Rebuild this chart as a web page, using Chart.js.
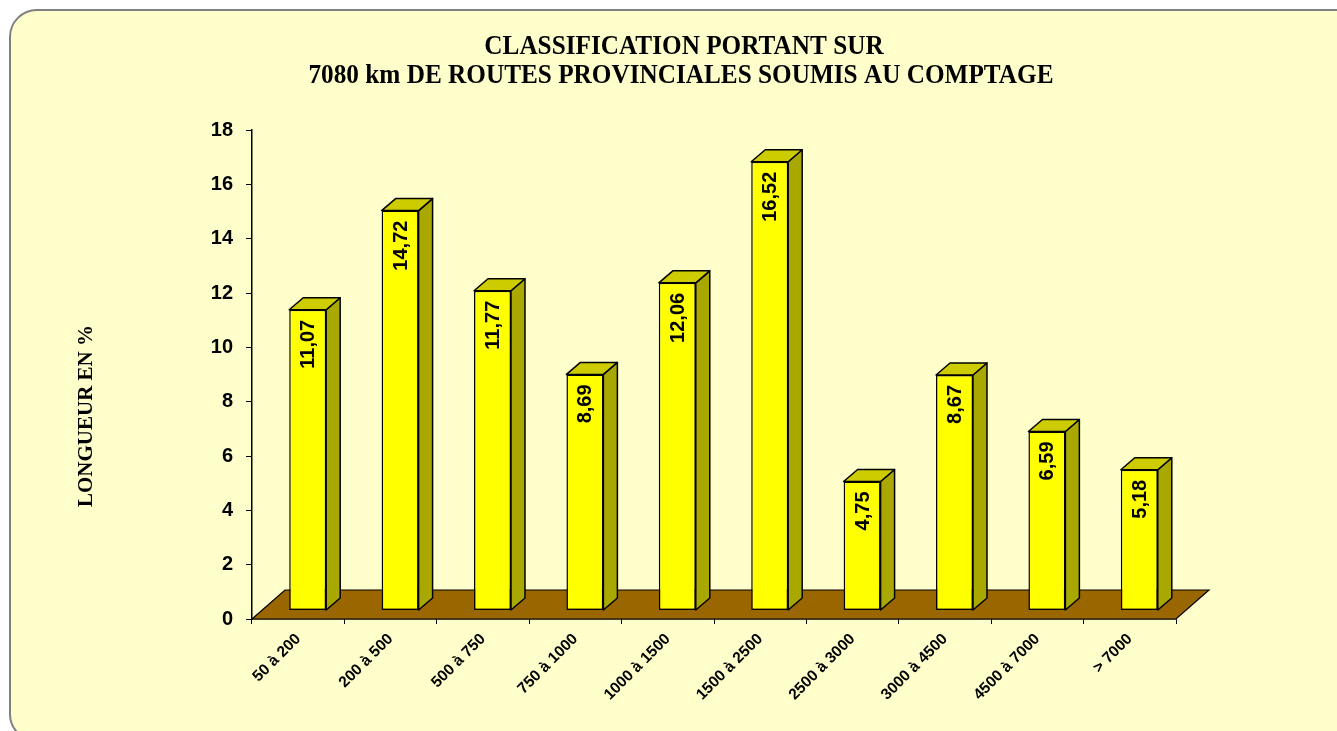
<!DOCTYPE html>
<html><head><meta charset="utf-8">
<script src="https://cdn.jsdelivr.net/npm/chart.js@4.4.0/dist/chart.umd.min.js"></script>
<style>html,body{margin:0;padding:0;background:#fff;}canvas{display:block;}</style>
</head><body>
<canvas id="c" width="1337" height="731"></canvas>
<script>
const categories = ['50 à 200','200 à 500','500 à 750','750 à 1000','1000 à 1500','1500 à 2500','2500 à 3000','3000 à 4500','4500 à 7000','> 7000'];
const values = [11.07,14.72,11.77,8.69,12.06,16.52,4.75,8.67,6.59,5.18];
const yTicks = [0,2,4,6,8,10,12,14,16,18];
const titleLines = ['CLASSIFICATION PORTANT SUR','7080 km DE ROUTES PROVINCIALES SOUMIS AU COMPTAGE'];
const yTitle = 'LONGUEUR EN %';

const SANS = "'Liberation Sans', Arial, sans-serif";
const SERIF = "'Liberation Serif', 'Times New Roman', serif";
const D = {fx: 9.5, fy: -8.5, sx: 14, sy: -12, floorDx: 33, floorDy: -29};
const COL = {bg:'#FFFFCC', front:'#FFFF00', top:'#CCCC00', side:'#A8A800', floor:'#996600', line:'#000000'};

function roundRect(ctx,x,y,w,h,r){
  ctx.beginPath();
  ctx.moveTo(x+r,y);ctx.lineTo(x+w-r,y);ctx.arcTo(x+w,y,x+w,y+r,r);
  ctx.lineTo(x+w,y+h-r);ctx.arcTo(x+w,y+h,x+w-r,y+h,r);
  ctx.lineTo(x+r,y+h);ctx.arcTo(x,y+h,x,y+h-r,r);
  ctx.lineTo(x,y+r);ctx.arcTo(x,y,x+r,y,r);ctx.closePath();
}

function condensedText(ctx, text, cx, cy, sx){
  ctx.save();
  ctx.translate(cx, cy);
  ctx.scale(sx, 1);
  ctx.fillText(text, 0, 0);
  ctx.restore();
}

const plugin3d = {
  id:'bars3d',
  beforeDraw(chart){
    const ctx = chart.ctx;
    ctx.save();
    ctx.fillStyle = '#FFFFFF';
    ctx.fillRect(0,0,chart.width,chart.height);
    roundRect(ctx,10,10,1352,731,27);
    ctx.fillStyle = COL.bg; ctx.fill();
    ctx.lineWidth = 2; ctx.strokeStyle = '#808080'; ctx.stroke();
    ctx.restore();
  },
  beforeDatasetsDraw(chart){
    const ctx = chart.ctx, xs = chart.scales.x, ys = chart.scales.y;
    const y0 = ys.getPixelForValue(0);
    ctx.save();
    ctx.beginPath();
    ctx.moveTo(xs.left, y0);
    ctx.lineTo(xs.left + D.floorDx, y0 + D.floorDy);
    ctx.lineTo(xs.right + D.floorDx, y0 + D.floorDy);
    ctx.lineTo(xs.right, y0);
    ctx.closePath();
    ctx.fillStyle = COL.floor; ctx.fill();
    ctx.lineWidth = 1.2; ctx.strokeStyle = COL.line; ctx.stroke();
    ctx.restore();
    ctx.save();
    ctx.translate(D.fx, D.fy);
  },
  afterDatasetsDraw(chart){
    const ctx = chart.ctx;
    const meta = chart.getDatasetMeta(0);
    ctx.lineWidth = 1.5; ctx.strokeStyle = COL.line; ctx.lineJoin = 'round';
    meta.data.forEach(bar => {
      const p = bar.getProps(['x','y','base','width'], true);
      const l = p.x - p.width/2, r = p.x + p.width/2;
      ctx.beginPath();
      ctx.moveTo(r, p.y); ctx.lineTo(r + D.sx, p.y + D.sy);
      ctx.lineTo(r + D.sx, p.base + D.sy); ctx.lineTo(r, p.base); ctx.closePath();
      ctx.fillStyle = COL.side; ctx.fill(); ctx.stroke();
      ctx.beginPath();
      ctx.moveTo(l, p.y); ctx.lineTo(l + D.sx, p.y + D.sy);
      ctx.lineTo(r + D.sx, p.y + D.sy); ctx.lineTo(r, p.y); ctx.closePath();
      ctx.fillStyle = COL.top; ctx.fill(); ctx.stroke();
    });
    ctx.fillStyle = '#000';
    ctx.font = 'bold 20px ' + SANS;
    ctx.textAlign = 'right'; ctx.textBaseline = 'middle';
    meta.data.forEach((bar, i) => {
      const p = bar.getProps(['x','y'], true);
      ctx.save();
      ctx.translate(p.x, p.y + 10);
      ctx.rotate(-Math.PI/2);
      ctx.fillText(values[i].toFixed(2).replace('.', ','), 0, 1);
      ctx.restore();
    });
    ctx.restore();
  },
  afterDraw(chart){
    const ctx = chart.ctx;
    ctx.save();
    ctx.fillStyle = '#000';
    ctx.font = 'bold 27px ' + SERIF;
    ctx.textAlign = 'center'; ctx.textBaseline = 'middle';
    condensedText(ctx, titleLines[0], 684, 47, 0.935);
    condensedText(ctx, titleLines[1], 681, 76, 0.935);
    ctx.translate(87, 416);
    ctx.rotate(-Math.PI/2);
    ctx.font = 'bold 21px ' + SERIF;
    ctx.fillText(yTitle, 0, 0);
    ctx.restore();
  }
};

new Chart(document.getElementById('c'), {
  type:'bar',
  data:{ labels: categories, datasets:[{ data: values, backgroundColor: COL.front, borderColor: COL.line, borderWidth: 1.5, borderSkipped: false, barPercentage: 0.4, categoryPercentage: 1, clip: false }]},
  options:{
    responsive:false, animation:false, devicePixelRatio:1,
    layout:{ padding:{ top:130, right:161, left:0, bottom:0 } },
    plugins:{ legend:{display:false}, tooltip:{enabled:false}, title:{display:false} },
    scales:{
      x:{
        afterFit(s){ s.height = 112; },
        grid:{ display:true, drawOnChartArea:false, drawTicks:true, tickLength:5, color:'#000', offset:true },
        border:{ display:true, color:'#000', width:1.5 },
        ticks:{ color:'#000', font:{ family:SANS, size:15.5, weight:'bold' }, minRotation:45, maxRotation:45, autoSkip:false, padding:6 }
      },
      y:{
        min:0, max:18,
        afterFit(s){ s.width = 252; },
        afterBuildTicks(s){ s.ticks = yTicks.map(v => ({value:v})); },
        grid:{ display:true, drawOnChartArea:false, drawTicks:true, tickLength:6, color:'#000' },
        border:{ display:true, color:'#000', width:1.5 },
        ticks:{ color:'#000', font:{ family:SANS, size:20, weight:'bold' }, padding:13 }
      }
    }
  },
  plugins:[plugin3d]
});
</script>
</body></html>
